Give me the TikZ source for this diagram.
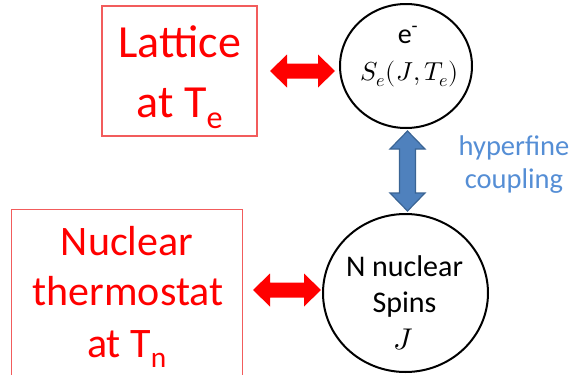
\documentclass[tikz,border=0pt]{standalone}
\usepackage{fontspec}
\usepackage{unicode-math}
\setmainfont{Carlito}
\setmathfont{Latin Modern Math}
\usetikzlibrary{shapes.geometric}
\definecolor{boxred}{HTML}{F25C5C}
\definecolor{txtred}{HTML}{FF0000}
\definecolor{arrblue}{HTML}{4F81BD}
\definecolor{arrblueedge}{HTML}{3A6494}
\definecolor{hfblue}{HTML}{558ED5}
\begin{document}
\begin{tikzpicture}[x=1pt,y=-1pt,
  bigbox/.style={draw=boxred, line width=1.2pt, inner sep=0pt},
  redtxt/.style={anchor=base, text=txtred, inner sep=0pt},
  orb/.style={ellipse, draw=black, line width=2pt, inner sep=0pt},
  orbtxt/.style={anchor=base, text=black, inner sep=0pt},
  redarr/.style={fill=txtred},
  bluearr/.style={fill=arrblue, draw=arrblueedge, line width=1.2pt, line join=miter},
  hftxt/.style={anchor=base, text=hfblue, inner sep=0pt, font=\fontsize{28.5}{33}\selectfont}]
\useasboundingbox (0,0) rectangle (582,375);
\clip (0,0) rectangle (582,375);

% boxes
\node[bigbox, minimum width=155, minimum height=130] (lat) at (179.5,71) {};
\node[redtxt, font=\fontsize{46}{60}\selectfont] (lat1) at (180,57) {Lattice};
\node[redtxt, font=\fontsize{46}{60}\selectfont] (lat2) at (180,117) {at T\textsubscript{e}};

\node[bigbox, minimum width=231, minimum height=175, anchor=north west] (nuc) at (11,209) {};
\node[redtxt, font=\fontsize{42}{51}\selectfont] (nuc1) at (127,255) {Nuclear};
\node[redtxt, font=\fontsize{42}{51}\selectfont] (nuc2) at (128,305) {thermostat};
\node[redtxt, font=\fontsize{42}{51}\selectfont] (nuc3) at (127,357) {at T\textsubscript{n}};

% circles
\node[orb, minimum width=132, minimum height=124] (el) at (406,66) {};
\node[orbtxt, font=\fontsize{28}{34}\selectfont] (el1) at (408,43) {e\textsuperscript{-}};
\node[orbtxt, font=\fontsize{26}{32}\selectfont] (el2) at (410,80) {$S_e(J,T_e)$};

\node[orb, minimum width=165, minimum height=158] (ns) at (405.5,293) {};
\node[orbtxt, font=\fontsize{30}{36}\selectfont] (ns1) at (404.5,276) {N nuclear};
\node[orbtxt, font=\fontsize{30}{36}\selectfont] (ns2) at (404.5,312) {Spins};
\node[orbtxt, font=\fontsize{30}{36}\selectfont] (ns3) at (403,349) {$J$};

% hyperfine label
\node[hftxt] (hf1) at (514,155) {hyperfine};
\node[hftxt] (hf2) at (514,188) {coupling};

% red double arrows
\coordinate (ra) at (270,71);
\fill[redarr] (ra) -- ++(17,-16.5) -- ++(0,9) -- ++(31,0) -- ++(0,-9) -- ++(17,16.5)
  -- ++(-17,16.5) -- ++(0,-9) -- ++(-31,0) -- ++(0,9) -- cycle;
\coordinate (rb) at (253,290);
\fill[redarr] (rb) -- ++(17,-16.5) -- ++(0,9) -- ++(34,0) -- ++(0,-9) -- ++(17,16.5)
  -- ++(-17,16.5) -- ++(0,-9) -- ++(-34,0) -- ++(0,9) -- cycle;

% blue double arrow
\coordinate (ba) at (407.5,131);
\filldraw[bluearr] (ba) -- ++(17.5,18) -- ++(-9.5,0) -- ++(0,44) -- ++(9.5,0) -- ++(-17.5,18)
  -- ++(-17.5,-18) -- ++(9.5,0) -- ++(0,-44) -- ++(-9.5,0) -- cycle;
\end{tikzpicture}
\end{document}
